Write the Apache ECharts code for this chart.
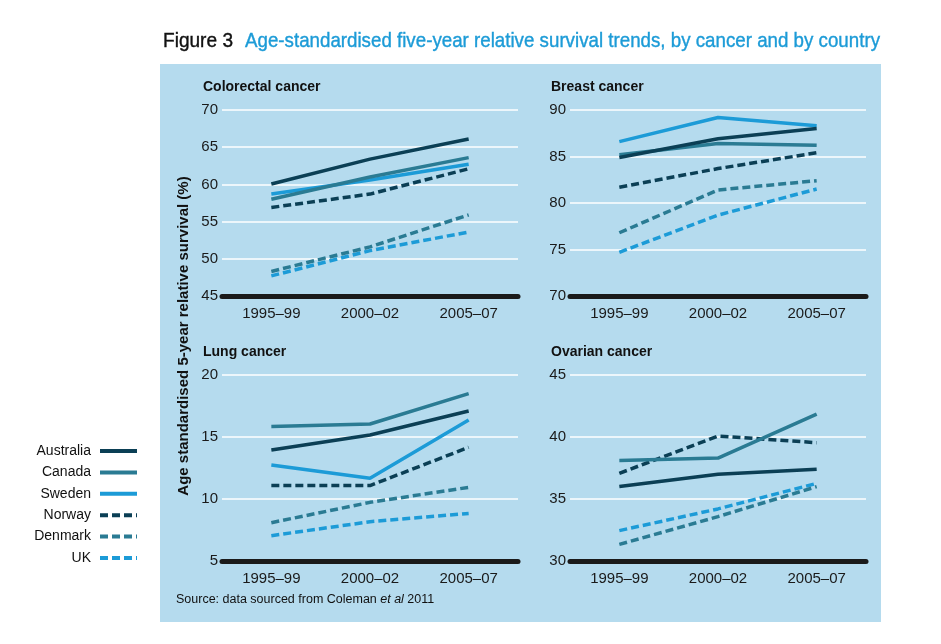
<!DOCTYPE html>
<html>
<head>
<meta charset="utf-8">
<script src="https://cdn.jsdelivr.net/npm/echarts@6/dist/echarts.min.js"></script>
<style>
html,body{margin:0;padding:0;background:#fff;}
#c{width:941px;height:644px;}
</style>
</head>
<body>
<div id="c"></div>
<script>
var categories = ['1995–99', '2000–02', '2005–07'];
var countries = ['Australia', 'Canada', 'Sweden', 'Norway', 'Denmark', 'UK'];

var colorectalAustralia = [60.05, 63.4, 66.1];
var colorectalCanada = [58.0, 61.0, 63.6];
var colorectalSweden = [58.7, 60.6, 62.7];
var colorectalNorway = [56.9, 58.7, 62.1];
var colorectalDenmark = [48.3, 51.6, 55.9];
var colorectalUK = [47.7, 51.1, 53.6];

var breastAustralia = [84.9, 86.9, 88.0];
var breastCanada = [85.2, 86.4, 86.2];
var breastSweden = [86.6, 89.2, 88.3];
var breastNorway = [81.7, 83.7, 85.4];
var breastDenmark = [76.8, 81.4, 82.4];
var breastUK = [74.7, 78.7, 81.5];

var lungAustralia = [13.95, 15.16, 17.1];
var lungCanada = [15.85, 16.05, 18.5];
var lungSweden = [12.74, 11.67, 16.37];
var lungNorway = [11.08, 11.08, 14.17];
var lungDenmark = [8.09, 9.73, 10.94];
var lungUK = [7.04, 8.17, 8.84];

var ovarianAustralia = [36.0, 37.0, 37.4];
var ovarianCanada = [38.1, 38.3, 41.85];
var ovarianSweden = [null, null, null];
var ovarianNorway = [37.07, 40.08, 39.54];
var ovarianDenmark = [31.34, 33.58, 36.0];
var ovarianUK = [32.45, 34.2, 36.26];

var panelTitles = ['Colorectal cancer', 'Breast cancer', 'Lung cancer', 'Ovarian cancer'];
var yMin = [45, 70, 5, 30];
var yMax = [70, 90, 20, 45];
var yInterval = [5, 5, 5, 5];

var figureLabel = 'Figure 3';
var figureTitle = 'Age-standardised five-year relative survival trends, by cancer and by country';
var yAxisTitle = 'Age standardised 5-year relative survival (%)';

var panelData = [
  [colorectalAustralia, colorectalCanada, colorectalSweden, colorectalNorway, colorectalDenmark, colorectalUK],
  [breastAustralia, breastCanada, breastSweden, breastNorway, breastDenmark, breastUK],
  [lungAustralia, lungCanada, lungSweden, lungNorway, lungDenmark, lungUK],
  [ovarianAustralia, ovarianCanada, ovarianSweden, ovarianNorway, ovarianDenmark, ovarianUK]
];

var colors = ['#0b3f55', '#2a7b93', '#1c9bd7', '#0b3f55', '#2a7b93', '#1c9bd7'];
var dashed = [false, false, false, true, true, true];

var gridPos = [
  {left: 222, top: 110},
  {left: 570, top: 110},
  {left: 222, top: 375},
  {left: 570, top: 375}
];
var FONT = "'Liberation Sans', Arial, sans-serif";

// measure title widths to fit the condensed look of the original
var ctx = document.createElement('canvas').getContext('2d');
ctx.font = "21px 'Liberation Sans'";
var figW = ctx.measureText(figureLabel).width;
var titW = ctx.measureText(figureTitle).width;
var figScale = 70 / figW;
var titScale = 635 / titW;

var chart = echarts.init(document.getElementById('c'), null, {renderer: 'canvas'});

var grids = [], xAxes = [], yAxes = [], series = [], titles = [];
for (var p = 0; p < 4; p++) {
  grids.push({left: gridPos[p].left, top: gridPos[p].top, width: 296, height: 186, containLabel: false});
  titles.push({
    text: panelTitles[p],
    left: gridPos[p].left - 19,
    top: gridPos[p].top - 30,
    padding: 0,
    textStyle: {fontFamily: FONT, fontWeight: 'bold', fontSize: 14, color: '#111'}
  });
  xAxes.push({
    type: 'category', gridIndex: p, data: categories, boundaryGap: true,
    axisLine: {show: true, lineStyle: {color: '#1a1a1a', width: 5}},
    axisTick: {show: false},
    axisLabel: {color: '#1a1a1a', fontSize: 15, fontFamily: FONT, margin: 10}
  });
  yAxes.push({
    type: 'value', gridIndex: p, min: yMin[p], max: yMax[p], interval: yInterval[p],
    axisLine: {show: false}, axisTick: {show: false},
    axisLabel: {color: '#1a1a1a', fontSize: 15, fontFamily: FONT, margin: 4},
    splitLine: {show: true, lineStyle: {color: '#ffffff', width: 1.5}}
  });
  for (var s = 0; s < 6; s++) {
    series.push({
      type: 'line', name: countries[s], xAxisIndex: p, yAxisIndex: p,
      data: panelData[p][s], symbol: 'none', silent: true, animation: false,
      lineStyle: {color: colors[s], width: 3.5, type: dashed[s] ? [8, 4] : 'solid', cap: 'butt'},
      itemStyle: {color: colors[s]},
      z: 10 - s
    });
  }
}

chart.setOption({
  backgroundColor: '#ffffff',
  animation: false,
  title: titles,
  grid: grids,
  xAxis: xAxes,
  yAxis: yAxes,
  series: series,
  legend: {
    data: countries,
    orient: 'vertical',
    align: 'right',
    right: 802,
    top: 443,
    padding: 0,
    itemWidth: 37,
    itemHeight: 10,
    itemGap: 5.4,
    selectedMode: false,
    itemStyle: {opacity: 0},
    lineStyle: {width: 4},
    textStyle: {fontFamily: FONT, fontSize: 14, color: '#111', lineHeight: 16, padding: [0, 4, 0, 0]}
  },
  graphic: [
    {type: 'rect', z: -10, silent: true, shape: {x: 160, y: 64, width: 721, height: 558}, style: {fill: '#b5dbee'}},
    {type: 'text', x: 163, y: 41, scaleX: figScale, silent: true,
      style: {text: figureLabel, fontFamily: FONT, fontSize: 21, fill: '#111', stroke: '#111', lineWidth: 0.4, align: 'left', verticalAlign: 'middle'}},
    {type: 'text', x: 880, y: 41, scaleX: titScale, silent: true,
      style: {text: figureTitle, fontFamily: FONT, fontSize: 21, fill: '#1c9bd7', stroke: '#1c9bd7', lineWidth: 0.4, align: 'right', verticalAlign: 'middle'}},
    {type: 'text', x: 184, y: 336, rotation: Math.PI / 2, silent: true,
      style: {text: yAxisTitle, fontFamily: FONT, fontWeight: 'bold', fontSize: 15, fill: '#111', align: 'center', verticalAlign: 'middle'}},
    {type: 'text', x: 176, y: 600, silent: true,
      style: {
        text: '{n|Source: data sourced from Coleman }{i|et al}{n| 2011}',
        verticalAlign: 'middle',
        rich: {
          n: {fontFamily: FONT, fontSize: 12.5, fill: '#111'},
          i: {fontFamily: FONT, fontSize: 12.5, fontStyle: 'italic', fill: '#111'}
        }
      }}
  ]
});
</script>
</body>
</html>
